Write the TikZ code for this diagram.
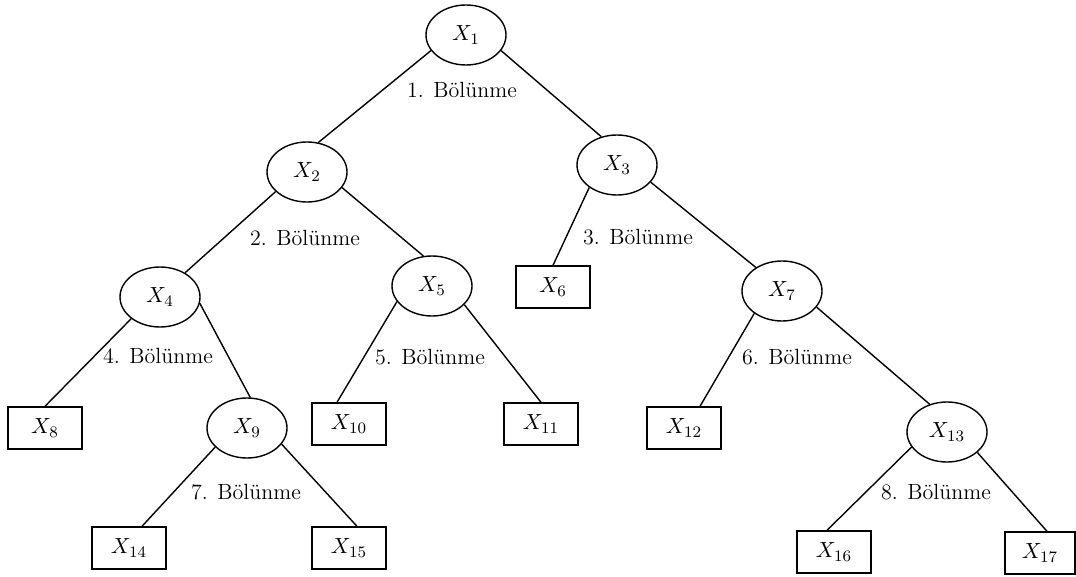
\documentclass[tikz,border=0pt]{standalone}
\usetikzlibrary{shapes.geometric}
\begin{document}
\begin{tikzpicture}[x=0.5pt,y=-0.5pt,line width=0.7pt,
  every node/.style={font=\fontsize{11}{13}\selectfont},
  split/.style={draw,ellipse,inner sep=0pt,minimum width=40pt,minimum height=30pt},
  leaf/.style={draw,rectangle,inner sep=0pt,minimum width=37pt,minimum height=21pt},
  cut/.style={inner sep=1pt}]
  \useasboundingbox (0,0) rectangle (1076,577);
  % split nodes
  \node[split] (x1) at (466,35) {$X_1$};
  \node[split] (x2) at (307,172) {$X_2$};
  \node[split] (x3) at (617,165) {$X_3$};
  \node[split] (x4) at (160,297) {$X_4$};
  \node[split] (x5) at (432,286) {$X_5$};
  \node[split] (x7) at (782,291) {$X_7$};
  \node[split] (x9) at (247,428) {$X_9$};
  \node[split] (x13) at (947,432) {$X_{13}$};
  % leaves
  \node[leaf] (x6) at (553,287) {$X_6$};
  \node[leaf] (x8) at (45,428) {$X_8$};
  \node[leaf] (x10) at (349,424) {$X_{10}$};
  \node[leaf] (x11) at (541,424) {$X_{11}$};
  \node[leaf] (x12) at (684,428) {$X_{12}$};
  \node[leaf] (x14) at (129,548) {$X_{14}$};
  \node[leaf] (x15) at (349,548) {$X_{15}$};
  \node[leaf] (x16) at (834,552) {$X_{16}$};
  \node[leaf,minimum width=35pt] (x17) at (1040,553) {$X_{17}$};
  % edges
  \draw (x1.204) -- (x2.69);
  \draw (x1.336) -- (x3.119);
  \draw (x2.212) -- (x4.44);
  \draw (x2.336) -- (x5.106);
  \draw (x3.219) -- (x6.north);
  \draw (x3.333) -- (x7.138);
  \draw (x4.217) -- (x8.north);
  \draw (x4.351) -- (x9.84);
  \draw (x5.204) -- ([xshift=-6pt]x10.north);
  \draw (x5.330) -- (x11.north);
  \draw (x7.219) -- ([xshift=8pt]x12.north);
  \draw (x7.335) -- (x13.122);
  \draw (x9.211) -- ([xshift=6.5pt]x14.north);
  \draw (x9.335) -- ([xshift=4pt]x15.north);
  \draw (x13.203) -- ([xshift=-3.5pt]x16.north);
  \draw (x13.326) -- ([xshift=3.5pt]x17.north);
  % split labels
  \node[cut] (c1) at (462,90) {1. Bölünme};
  \node[cut] (c2) at (305,238) {2. Bölünme};
  \node[cut] (c3) at (638,237) {3. Bölünme};
  \node[cut] (c4) at (158,356) {4. Bölünme};
  \node[cut] (c5) at (430,357) {5. Bölünme};
  \node[cut] (c6) at (797,357) {6. Bölünme};
  \node[cut] (c7) at (246,492) {7. Bölünme};
  \node[cut] (c8) at (936,492) {8. Bölünme};
\end{tikzpicture}
\end{document}
